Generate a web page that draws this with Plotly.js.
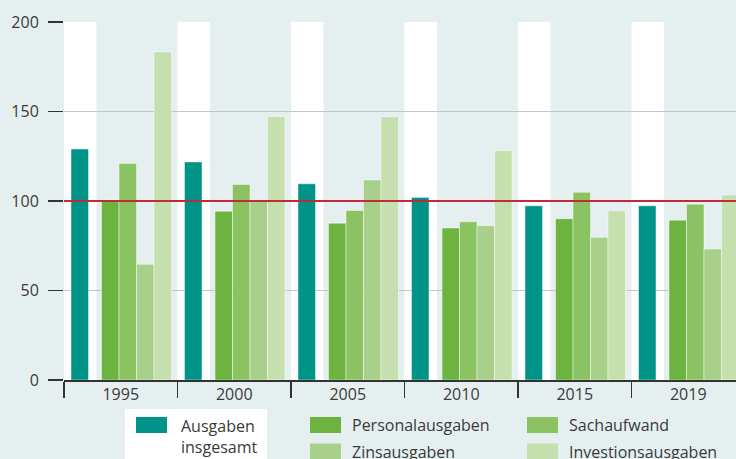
<!DOCTYPE html>
<html><head><meta charset="utf-8">
<script src="https://cdn.plot.ly/plotly-3.0.1.min.js"></script>
<style>html,body{margin:0;padding:0;background:#e6eff0;}</style>
</head><body><div id="chart" style="width:736px;height:459px;"></div>
<script>
// ---- data ----
const years = ['1995','2000','2005','2010','2015','2019'];
const seriesNames = ['Ausgaben<br>insgesamt','Personalausgaben','Sachaufwand','Zinsausgaben','Investionsausgaben'];
const ausgabenInsgesamt   = [129, 121.8, 109.6, 102, 97.3, 97.3];
const personalausgaben    = [100.6, 94.3, 87.6, 84.9, 90.1, 89.3];
const sachaufwand         = [121, 109.2, 94.7, 88.4, 104.9, 98.2];
const zinsausgaben        = [64.6, 99.8, 111.8, 86.2, 79.7, 73.2];
const investitionsausgaben= [183.3, 147.2, 147.1, 128.1, 94.5, 103.4];
const referenceLevel = 100;
const yTicks = [0, 50, 100, 150, 200];

// ---- styles / layout ----
const colors = ['#009387', '#6db33f', '#8bc262', '#a8d08a', '#c5dfae'];
const W = 736, H = 459, M = {l: 64, r: 0, t: 22, b: 79};
const pw = W - M.l - M.r, ph = H - M.t - M.b;
const groupPx = 113.5;
const u = px => px / groupPx;                 // pixels within a group -> axis units
const X = px => (px - M.l) / pw;              // page px -> paper x
const Y = py => (H - M.b - py) / ph;          // page px -> paper y
const barW = u(17.5);
const offsets = [u(7) - 0.5, u(37.5) - 0.5, u(55) - 0.5, u(72.5) - 0.5, u(90) - 0.5];
const series = [ausgabenInsgesamt, personalausgaben, sachaufwand, zinsausgaben, investitionsausgaben];

const traces = series.map((vals, k) => ({
  type: 'bar', x: years, y: vals, name: seriesNames[k].replace('<br>', ' '),
  offset: offsets[k], width: barW,
  marker: {color: colors[k], line: {color: 'rgba(255,255,255,0.45)', width: 1}},
  showlegend: false, hoverinfo: 'x+y'
}));

const shapes = [];
years.forEach((yr, i) => {
  shapes.push({type: 'rect', xref: 'x', yref: 'y', x0: i - 0.5, x1: i - 0.5 + u(32.4),
    y0: 0, y1: yTicks[yTicks.length - 1], fillcolor: '#ffffff', line: {width: 0}, layer: 'below'});
});
shapes.push({type: 'line', xref: 'paper', yref: 'y', x0: 0, x1: 1, y0: referenceLevel, y1: referenceLevel,
  line: {color: '#c12a37', width: 2}, layer: 'above'});

// custom legend
shapes.push({type: 'rect', xref: 'paper', yref: 'paper', x0: X(125), x1: X(267), y0: Y(409), y1: Y(470),
  fillcolor: '#ffffff', line: {width: 0}, layer: 'above'});
const legendPos = [
  {sx: 136, sy: 417, tx: 180, ty: 436},
  {sx: 310, sy: 417, tx: 351, ty: 425},
  {sx: 527, sy: 417, tx: 568, ty: 425},
  {sx: 310, sy: 443.5, tx: 351, ty: 452},
  {sx: 527, sy: 443.5, tx: 568, ty: 452}
];
const annotations = [];
legendPos.forEach((p, k) => {
  shapes.push({type: 'rect', xref: 'paper', yref: 'paper', x0: X(p.sx), x1: X(p.sx + 31), y0: Y(p.sy), y1: Y(p.sy + 16),
    fillcolor: colors[k], line: {width: 0}, layer: 'above'});
  annotations.push({xref: 'paper', yref: 'paper', x: X(p.tx), y: Y(p.ty), xanchor: 'left', yanchor: 'middle',
    text: seriesNames[k], showarrow: false, align: 'left', borderpad: 0,
    font: {family: 'Open Sans, sans-serif', size: 16, color: '#3a3a3a'}});
});

const layout = {
  width: W, height: H, margin: M,
  paper_bgcolor: '#e6eff0', plot_bgcolor: '#e6eff0',
  barmode: 'overlay', showlegend: false,
  font: {family: 'Open Sans, sans-serif', size: 16, color: '#3a3a3a'},
  xaxis: {type: 'category', range: [-0.5, -0.5 + pw / groupPx], tickson: 'boundaries',
    ticks: 'outside', ticklen: 16, tickwidth: 1.5, tickcolor: '#333',
    showline: true, linecolor: '#333', linewidth: 1.5, showgrid: false,
    ticklabelstandoff: -1, tickfont: {size: 16, color: '#3a3a3a'}},
  yaxis: {range: [0, 200], tickvals: yTicks, ticks: 'outside', ticklen: 15, tickwidth: 1.5, tickcolor: '#333',
    showgrid: true, gridcolor: '#c2c6c7', gridwidth: 1.5, zeroline: false, showline: false,
    ticklabelstandoff: 6, tickfont: {size: 16, color: '#3a3a3a'}},
  shapes: shapes, annotations: annotations
};
Plotly.newPlot('chart', traces, layout, {displayModeBar: false, staticPlot: true});
</script>
</body></html>
